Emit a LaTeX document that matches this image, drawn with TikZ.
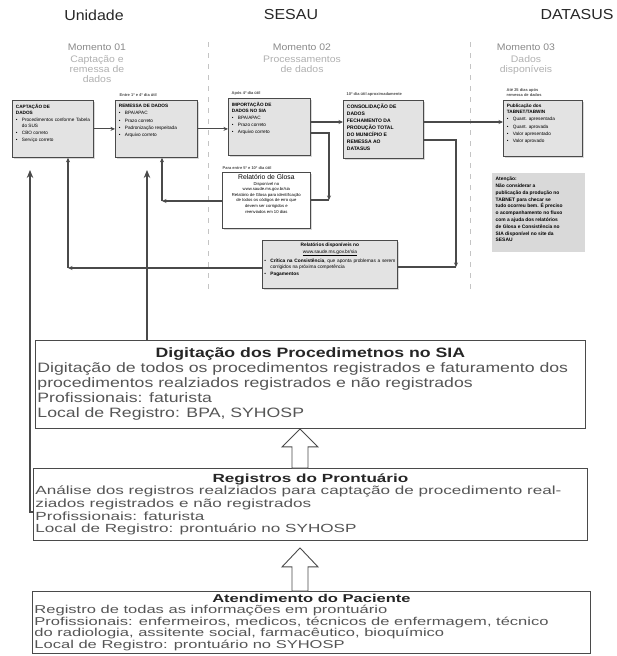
\documentclass[tikz,border=0pt]{standalone}
\usepackage{fontspec}
\setmainfont{Liberation Sans}
\newfontfamily\wfont[FakeStretch=1.3]{Liberation Sans}
\newfontfamily\rfont[FakeStretch=1.45]{Liberation Sans}
\newfontfamily\hfont[FakeStretch=1.1]{Liberation Sans}
\usetikzlibrary{calc,arrows.meta,shadows}
\definecolor{linecol}{HTML}{4A4A4A}
\definecolor{boxgray}{HTML}{E3E3E3}
\definecolor{attgray}{HTML}{D9D9D9}
\definecolor{sepgray}{HTML}{C4C4C4}
\definecolor{bodytext}{HTML}{555555}
\definecolor{momtext}{HTML}{8A8A8A}
\definecolor{subtext}{HTML}{B0B0B0}
\newcommand\bit[1]{\par\vspace{1.4pt}\hangindent=6pt\hangafter=1\noindent\makebox[6pt][l]{\textbullet}#1}
\newcommand\tinyfont{\fontsize{4.7}{5.8}\selectfont}
\begin{document}
\begin{tikzpicture}[x=1pt,y=-1pt,
  topbox/.style={draw=linecol,fill=boxgray,line width=0.8pt,anchor=north west,inner sep=0pt,
    drop shadow={shadow xshift=1.6pt,shadow yshift=-1.6pt,fill=black!30}},
  relbox/.style={draw=linecol,fill=white,line width=0.8pt,anchor=north west,inner sep=0pt,
    drop shadow={shadow xshift=1.6pt,shadow yshift=-1.6pt,fill=black!30}},
  attbox/.style={fill=attgray,anchor=north west,inner sep=0pt},
  bigbox/.style={draw=linecol,fill=white,line width=0.9pt,anchor=north west,inner sep=0pt,text=bodytext},
  header/.style={font=\hfont\fontsize{14.5}{16}\selectfont,text=black!85},
  moment/.style={font=\hfont\fontsize{9.5}{10}\selectfont,text=momtext},
  subm/.style={font=\hfont\fontsize{9.5}{10}\selectfont,text=subtext,align=center},
  lbl/.style={font=\fontsize{4}{5}\selectfont\bfseries,text=black!70,inner sep=0.5pt},
  conn/.style={draw=linecol,line width=1.1pt},
  tip/.style={-{Stealth[length=4.5pt,width=4pt]}},
  bigtip/.style={-{Stealth[length=8pt,width=6.5pt]}},
  sep/.style={draw=sepgray,line width=0.7pt,dash pattern=on 5pt off 6pt},
  barrow/.style={draw=linecol,fill=white,line width=0.9pt,line join=miter}]
\useasboundingbox (0,0) rectangle (616,656);

% headers
\node[header] (hU) at (94,15) {Unidade};
\node[header] (hS) at (291,15) {SESAU};
\node[header] (hD) at (577,15) {DATASUS};

\node[moment] (m1) at (97,47) {Momento 01};
\node[subm,anchor=north] (s1) at (97,52) {Captação e\\remessa de\\dados};
\node[moment] (m2) at (302,47) {Momento 02};
\node[subm,anchor=north] (s2) at (302,52) {Processamentos\\de dados};
\node[moment] (m3) at (526,47) {Momento 03};
\node[subm,anchor=north] (s3) at (526,52) {Dados\\disponíveis};

% separators
\draw[sep] (208,42) -- (208,292);
\draw[sep] (470,42) -- (470,292);

% top boxes
\node[topbox,minimum width=81,minimum height=57] (B1) at (12,100)
 {\parbox[c][55pt][t]{74pt}{\tinyfont\vspace{3pt}\textbf{CAPTAÇÃO DE\\DADOS}
  \bit{Procedimentos conforme Tabela do SUS}\bit{CBO correto}\bit{Serviço correto}}};
\node[topbox,minimum width=82,minimum height=57] (B2) at (115,100)
 {\parbox[c][55pt][t]{75pt}{\tinyfont\vspace{3pt}\textbf{REMESSA DE DADOS}
  \bit{BPA/APAC}\bit{Prazo correto}\bit{Padronização respeitada}\bit{Arquivo correto}}};
\node[topbox,minimum width=82,minimum height=57] (B3) at (228,98)
 {\parbox[c][55pt][t]{75pt}{\tinyfont\vspace{3pt}\textbf{IMPORTAÇÃO DE\\DADOS NO SIA}
  \bit{BPA/APAC}\bit{Prazo correto}\bit{Arquivo correto}}};
\node[topbox,minimum width=80,minimum height=58] (B4) at (343,100)
 {\parbox[c][56pt][t]{73pt}{\fontsize{5}{6.9}\selectfont\vspace{3pt}\bfseries CONSOLIDAÇÃO DE\\DADOS\\FECHAMENTO DA\\PRODUÇÃO TOTAL\\DO MUNICÍPIO E\\REMESSA AO\\DATASUS}};
\node[topbox,minimum width=79,minimum height=56] (B5) at (503,100)
 {\parbox[c][54pt][t]{72pt}{\tinyfont\vspace{3pt}\textbf{Publicação dos\\TABNET/TABWIN}
  \bit{Quant. apresentada}\bit{Quant. aprovada}\bit{Valor apresentado}\bit{Valor aprovado}}};

% labels above boxes
\node[lbl,anchor=south west] (l2) at (119,97) {Entre 1º e 4º dia útil};
\node[lbl,anchor=south west] (l3) at (231,96) {Após 4º dia útil};
\node[lbl,anchor=south west] (l4) at (346,97) {10º dia útil aproximadamente};
\node[lbl,anchor=south west,align=left] (l5) at (506,97) {Até 25 dias após\\remessa de dados};
\node[lbl,anchor=south west] (l6) at (222,170) {Para entre 5º e 10º dia útil};

% report boxes
\node[relbox,minimum width=88,minimum height=56] (Rel) at (222,172)
 {\parbox[c][54pt][t]{84pt}{\centering\vspace{1pt}{\fontsize{6.8}{8}\selectfont Relatório de Glosa\par}
  \fontsize{4.2}{5.6}\selectfont Disponível no\\www.saude.ms.gov.br/sia\\Relatório de Glosa para identificação\\de todos os códigos de erro que\\devem ser corrigidos e\\reenviados em 10 dias}};
\node[topbox,minimum width=135,minimum height=48] (Disp) at (262,240)
 {\parbox[c][46pt][t]{131pt}{\fontsize{4.8}{6.2}\selectfont\vspace{2pt}{\centering\bfseries Relatórios disponíveis no\\ \mdseries\underline{www.saude.ms.gov.br/sia}\par}
  \bit{\textbf{Crítica na Consistência}, que aponta problemas a serem corrigidos na próxima competência}\bit{\textbf{Pagamentos}}}};
\node[attbox,minimum width=93,minimum height=79] (Att) at (492,173)
 {\parbox[c][77pt][t]{86pt}{\fontsize{4.9}{6.8}\selectfont\bfseries\vspace{3pt}Atenção:\\Não considerar a\\publicação da produção no\\TABNET para checar se\\tudo ocorreu bem. É preciso\\o acompanhamento no fluxo\\com a ajuda dos relatórios\\de Glosa e Consistência no\\SIA disponível no site da\\SESAU}};

% big boxes
\node[bigbox,minimum width=550,minimum height=88,font=\wfont\fontsize{13.6}{15}\selectfont] (Dig) at (35,340)
 {\parbox{546pt}{{\centering\color{black!85}\bfseries Digitação dos Procedimetnos no SIA\par}
  Digitação de todos os procedimentos registrados e faturamento dos\\procedimentos realziados registrados e não registrados\\Profissionais: faturista\\Local de Registro: BPA, SYHOSP}};
\node[bigbox,minimum width=554,minimum height=72,font=\rfont\fontsize{11.8}{12.6}\selectfont] (Reg) at (33,468)
 {\parbox{550pt}{{\centering\color{black!85}\bfseries Registros do Prontuário\par}
  Análise dos registros realziados para captação de procedimento real-\\ziados registrados e não registrados\\Profissionais: faturista\\Local de Registro: prontuário no SYHOSP}};
\node[bigbox,minimum width=558,minimum height=62,font=\rfont\fontsize{11.4}{11.5}\selectfont] (Ate) at (32,591)
 {\parbox{554pt}{{\centering\color{black!85}\bfseries Atendimento do Paciente\par}
  Registro de todas as informações em prontuário\\Profissionais: enfermeiros, medicos, técnicos de enfermagem, técnico\\do radiologia, assitente social, farmacêutico, bioquímico\\Local de Registro: prontuário no SYHOSP}};

% helper coordinates
\coordinate (r122) at (0,122);
\coordinate (r133) at (0,133);
\coordinate (r140) at (0,140);
\coordinate (r512) at (0,512);
\coordinate (k1) at (329,200);
\coordinate (k2) at (162,201);
\coordinate (k3) at (456,267);
\coordinate (k4) at (68,268);
\coordinate (a1) at (30,170);
\coordinate (a2) at (147,170);
\coordinate (xc) at (300,0);

% connectors
\draw[conn,tip] (B1.east) -- (B1.east -| B2.west);
\draw[conn,tip] (B2.east) -- (B2.east -| B3.west);
\draw[conn,tip] (B3.east |- r122) -- (B4.west |- r122);
\draw[conn,tip] (B4.east |- r122) -- (B5.west |- r122);
\draw[conn,tip] (B3.east |- r133) -| (k1);
\draw[conn] (k1) -- (k1 -| Rel.east);
\draw[conn,tip] (Rel.west |- k2) -- (k2);
\draw[conn,tip] (k2) -- (k2 |- B2.south);
\draw[conn,tip] (B4.east |- r140) -| (k3);
\draw[conn] (k3) -- (k3 -| Disp.east);
\draw[conn,tip] (Disp.west |- k4) -- (k4);
\draw[conn,tip] (k4) -- (k4 |- B1.south);
\draw[conn,bigtip] (Dig.north -| a2) -- (a2);
\draw[conn,bigtip] (Reg.west |- r512) -| (a1);

% block arrows
\coordinate (t1) at (Dig.south -| xc);
\coordinate (b1) at (Reg.north -| xc);
\draw[barrow] (t1) -- ($(t1)+(18,18)$) -- ($(t1)+(8,18)$) -- ($(b1)+(8,0)$) -- ($(b1)+(-8,0)$) -- ($(t1)+(-8,18)$) -- ($(t1)+(-18,18)$) -- cycle;
\coordinate (t2) at ($(Reg.south -| xc)+(0,7)$);
\coordinate (b2) at (Ate.north -| xc);
\draw[barrow] (t2) -- ($(t2)+(18,19)$) -- ($(t2)+(8,19)$) -- ($(b2)+(8,0)$) -- ($(b2)+(-8,0)$) -- ($(t2)+(-8,19)$) -- ($(t2)+(-18,19)$) -- cycle;
\end{tikzpicture}
\end{document}
